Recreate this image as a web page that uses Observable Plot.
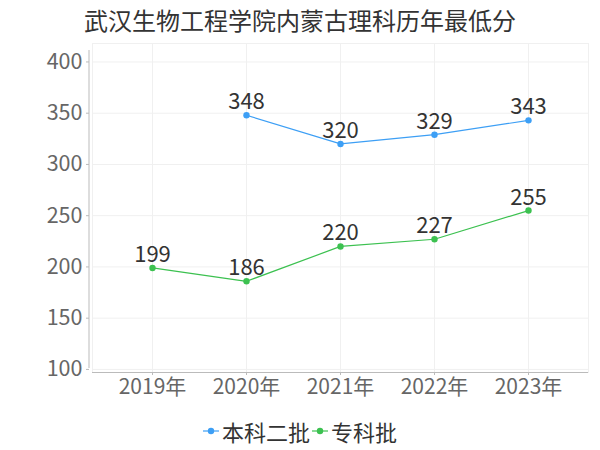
<!DOCTYPE html>
<html>
<head>
<meta charset="utf-8">
<script src="https://cdn.jsdelivr.net/npm/d3@7"></script>
<script src="https://cdn.jsdelivr.net/npm/@observablehq/plot@0.6"></script>
<style>
  html, body { margin: 0; padding: 0; background: #fff; }
  #wrap { position: relative; width: 600px; height: 450px; font-family: "Noto Sans CJK SC", "Noto Sans", sans-serif; }
  #title { position: absolute; left: 84px; top: 4px; font-size: 24px; color: #333; white-space: nowrap; line-height: 32px; }
  #chart { position: absolute; left: 0; top: 0; }
  #legend { position: absolute; left: 0; width: 600px; top: 411px; text-align: center; font-size: 22px; color: #333; line-height: 30px; }
  #legend span.item { display: inline-flex; align-items: center; margin: 0 1px; }
  #legend svg { margin-right: 3px; }
</style>
</head>
<body>
<div id="wrap">
  <div id="chart"></div>
  <div id="title"></div>
  <div id="legend"></div>
</div>
<script>
const titleText = "武汉生物工程学院内蒙古理科历年最低分";
const years = ["2019年", "2020年", "2021年", "2022年", "2023年"];
const seriesNames = ["本科二批", "专科批"];
const benkeValues = [null, 348, 320, 329, 343];
const zhuankeValues = [199, 186, 220, 227, 255];
const seriesColors = ["#3d9ff5", "#3cc150"];
const yTicks = [100, 150, 200, 250, 300, 350, 400];

const rows = [];
[benkeValues, zhuankeValues].forEach((vals, si) => {
  vals.forEach((v, i) => {
    if (v != null) rows.push({series: seriesNames[si], year: years[i], value: v});
  });
});

document.getElementById("title").textContent = titleText;

const yAxisLine = (index, scales, values, dims) => {
  const ns = "http://www.w3.org/2000/svg";
  const l = document.createElementNS(ns, "line");
  const x = dims.marginLeft;
  l.setAttribute("x1", x); l.setAttribute("x2", x);
  l.setAttribute("y1", dims.marginTop + 7);
  l.setAttribute("y2", dims.height - dims.marginBottom - 4);
  l.setAttribute("stroke", "#bbb");
  return l;
};

const chart = Plot.plot({
  width: 600,
  height: 410,
  marginTop: 43,
  marginBottom: 38,
  marginLeft: 89,
  marginRight: 12,
  style: {fontFamily: "'Noto Sans CJK SC', 'Noto Sans', sans-serif", background: "transparent"},
  x: {type: "point", domain: years, padding: 0.638, insetLeft: 3, label: null},
  y: {domain: [97, 418], label: null},
  color: {domain: seriesNames, range: seriesColors},
  marks: [
    Plot.frame({stroke: "#f0f0f0", insetLeft: 3}),
    Plot.gridY(yTicks, {stroke: "#f0f0f0", strokeOpacity: 1, insetLeft: 3}),
    Plot.gridX(years, {stroke: "#f0f0f0", strokeOpacity: 1}),
    Plot.ruleY([97], {stroke: "#bbb", insetLeft: 3}),
    yAxisLine,
    Plot.axisY(yTicks, {tickSize: 3, tickPadding: 4, fontSize: 21.5, stroke: "#bbb", fill: "#666", label: null, tickFormat: d => String(d)}),
    Plot.axisX(years, {tickSize: 3, tickPadding: 4, fontSize: 21, stroke: "#bbb", fill: "#666", label: null}),
    Plot.line(rows, {x: "year", y: "value", z: "series", stroke: "series", strokeWidth: 1.2}),
    Plot.dot(rows, {x: "year", y: "value", fill: "series", r: 3.2}),
    Plot.text(rows, {x: "year", y: "value", text: d => String(d.value), dy: -13, fontSize: 22, fill: "#333"})
  ]
});
document.getElementById("chart").appendChild(chart);

const legend = document.getElementById("legend");
seriesNames.forEach((name, i) => {
  const item = document.createElement("span");
  item.className = "item";
  item.innerHTML = `<svg width="16" height="10"><line x1="0" x2="16" y1="5" y2="5" stroke="${seriesColors[i]}" stroke-width="1.2"/><circle cx="8" cy="5" r="3.2" fill="${seriesColors[i]}"/></svg>`;
  const t = document.createElement("span");
  t.textContent = name;
  item.appendChild(t);
  legend.appendChild(item);
});
</script>
</body>
</html>
